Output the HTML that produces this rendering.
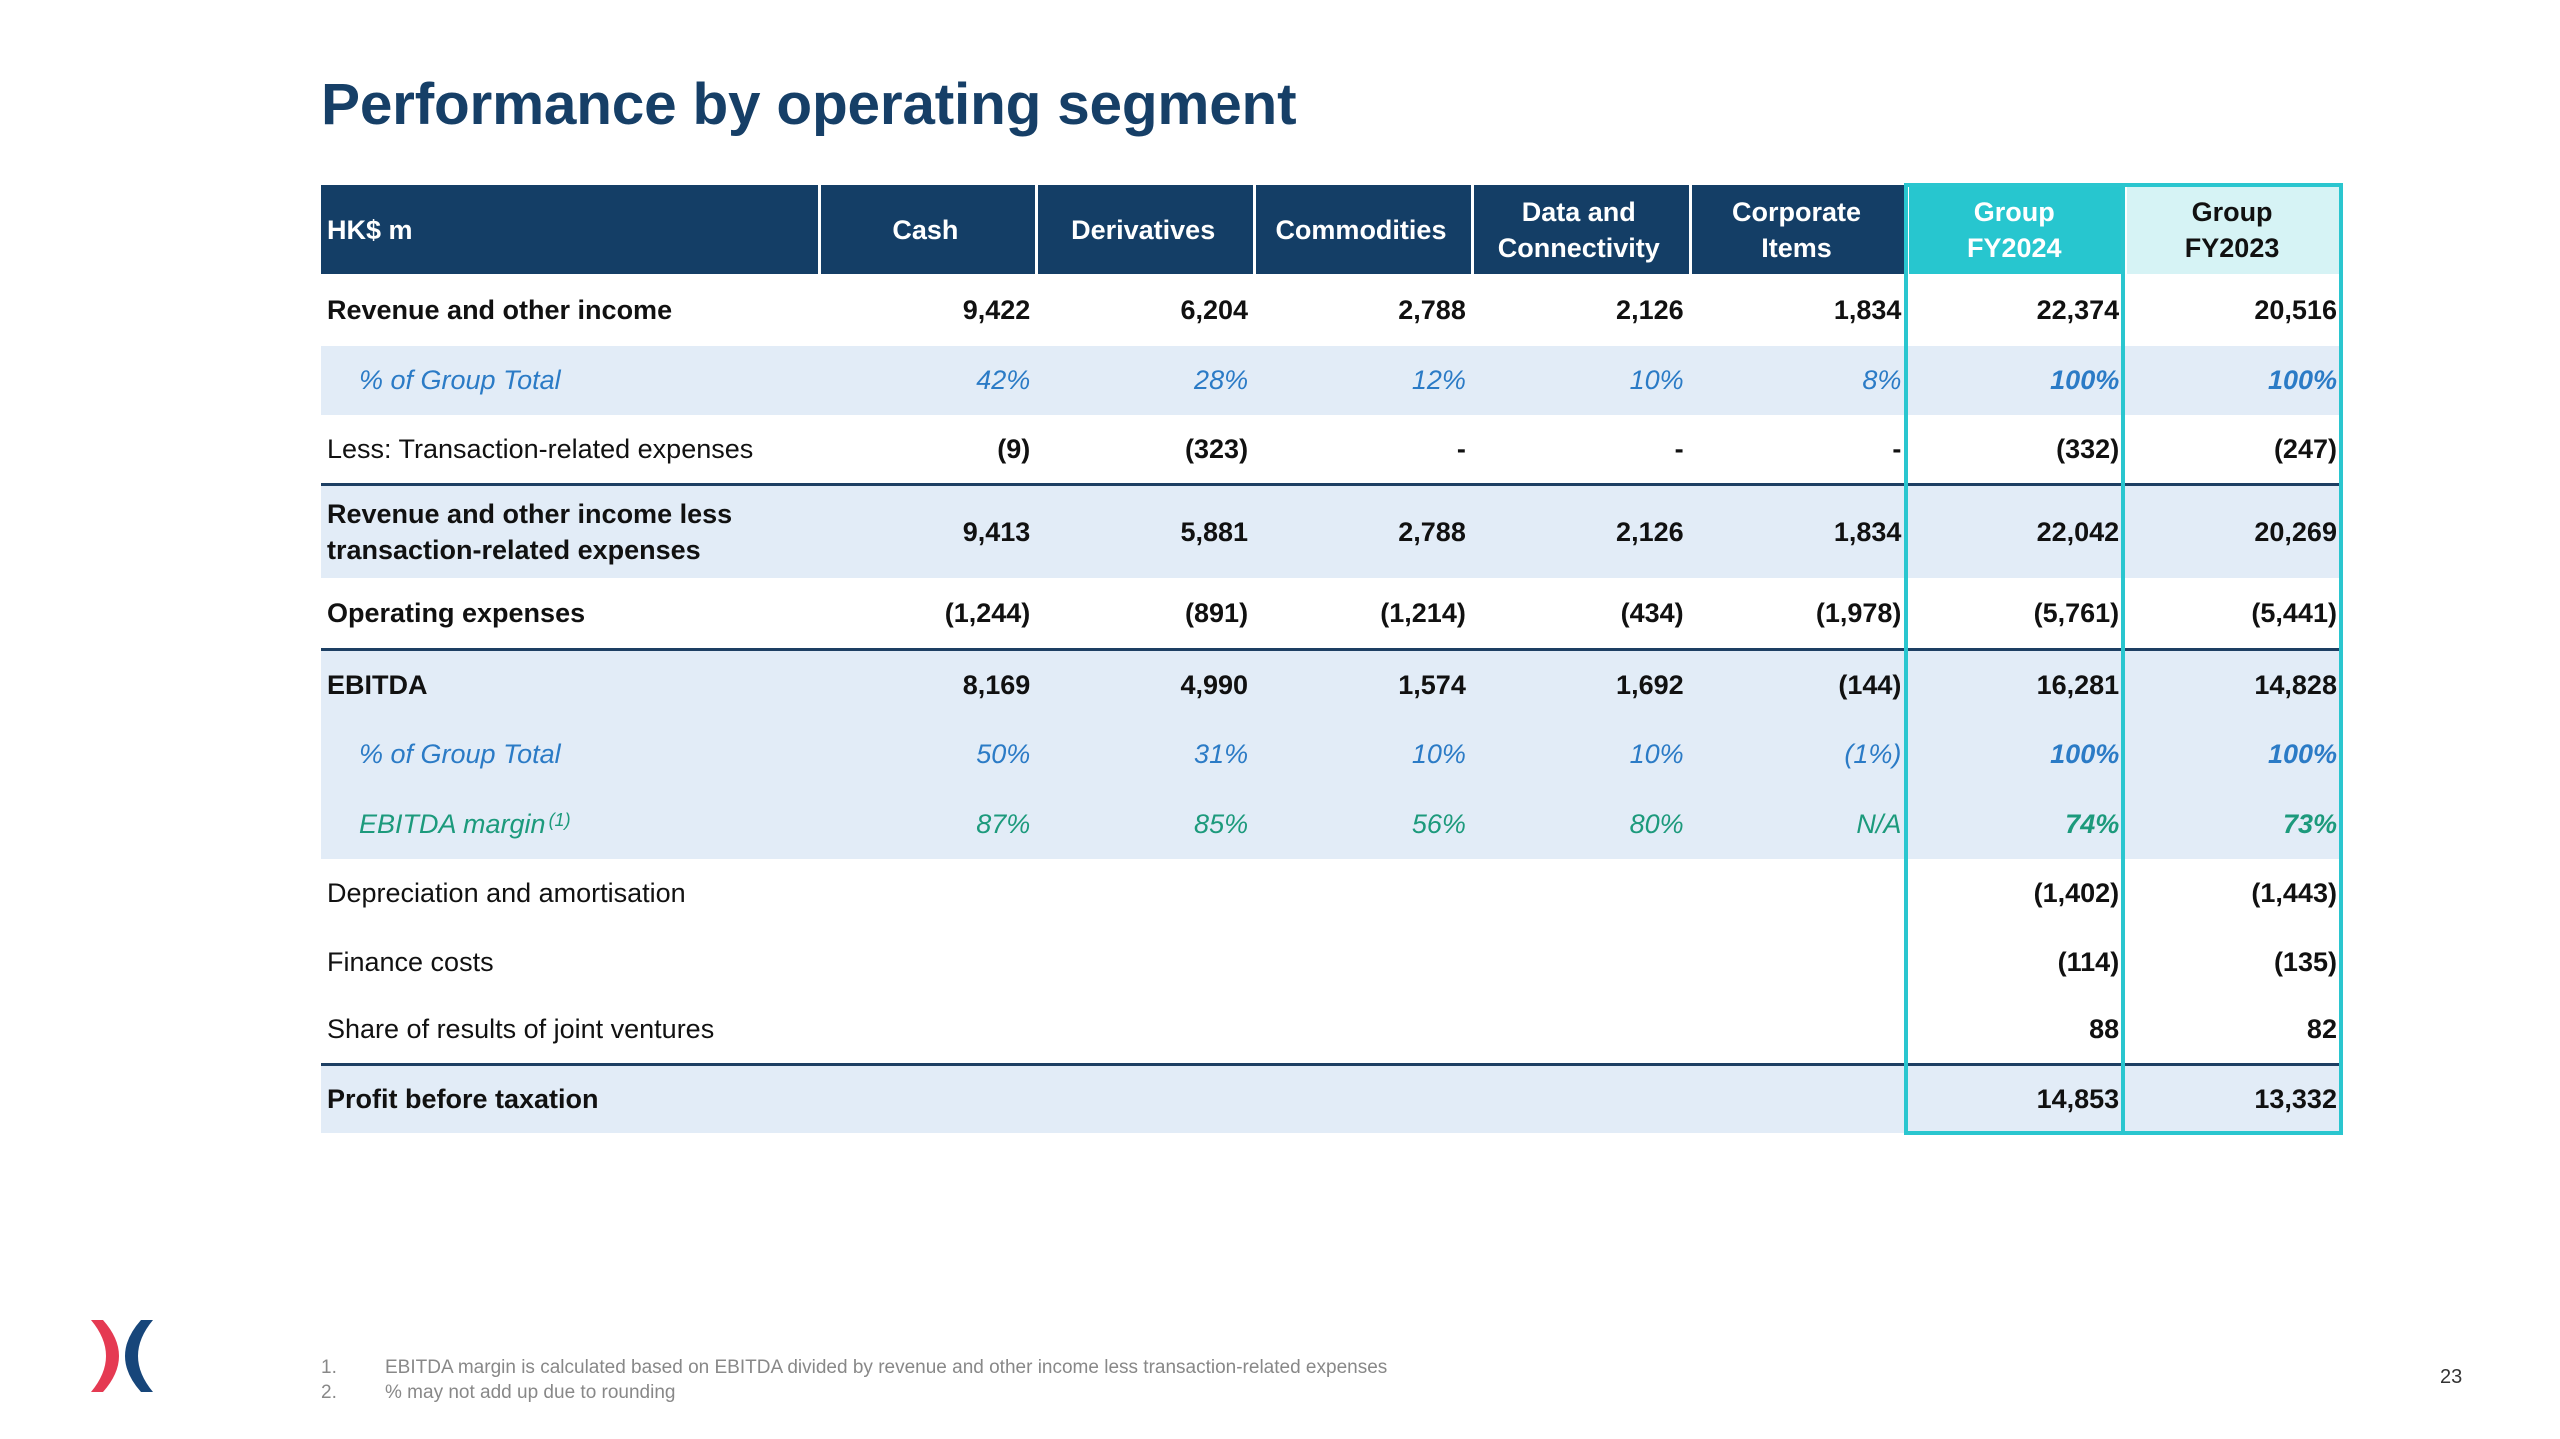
<!DOCTYPE html>
<html><head><meta charset="utf-8"><style>
*{box-sizing:border-box;margin:0;padding:0}
body{width:2560px;height:1439px;background:#fff;position:relative;overflow:hidden;font-family:"Liberation Sans",Arial,sans-serif;color:#111}
#title{position:absolute;left:321px;top:71px;font-size:58.5px;font-weight:bold;color:#163f67;letter-spacing:-0.2px}
#tbl{position:absolute;left:321px;top:185px;width:2021px}
.row{display:flex;align-items:center;font-size:27px}
.c{width:218px;text-align:right;padding-right:5px;height:100%;display:flex;align-items:center;justify-content:flex-end}
.l{width:497px;padding-left:6px;height:100%;display:flex;align-items:center}
.hdr .c,.hdr .l{background:#143e66;color:#fff;font-weight:bold;justify-content:center;text-align:center;border-left:3px solid #fff;line-height:36px}
.hdr .l{border-left:none;justify-content:flex-start}
.hdr .g24{background:#27c6cf}
.hdr .g23{background:#d6f3f5;color:#111}
.b{font-weight:bold}
.sh{background:#e2ecf7}
.blue{color:#2b7bc6;font-style:italic}
.green{color:#1c9a7c;font-style:italic}
.ind{padding-left:38px}
.top{border-top:3px solid #1d3f63}
#box{position:absolute;left:1904px;top:183px;width:439px;height:952px;border:4px solid #2ac6cf;pointer-events:none}
#div{position:absolute;left:2121px;top:183px;width:4px;height:952px;background:#2ac6cf}
.fn{position:absolute;font-size:19px;color:#888}
</style></head><body>
<div id="title">Performance by operating segment</div>
<div id="tbl">
<div class="row hdr" style="height:89px">
<div class="l">HK$ m</div>
<div class="c">Cash</div>
<div class="c">Derivatives</div>
<div class="c">Commodities</div>
<div class="c">Data and<br>Connectivity</div>
<div class="c">Corporate<br>Items</div>
<div class="c g24">Group<br>FY2024</div>
<div class="c g23">Group<br>FY2023</div>
</div>
<div class="row b" style="height:72px"><div class="l">Revenue and other income</div><div class="c">9,422</div><div class="c">6,204</div><div class="c">2,788</div><div class="c">2,126</div><div class="c">1,834</div><div class="c">22,374</div><div class="c">20,516</div></div>
<div class="row sh blue" style="height:69px"><div class="l ind">% of Group Total</div><div class="c">42%</div><div class="c">28%</div><div class="c">12%</div><div class="c">10%</div><div class="c">8%</div><div class="c b">100%</div><div class="c b">100%</div></div>
<div class="row" style="height:68px"><div class="l">Less: Transaction-related expenses</div><div class="c b">(9)</div><div class="c b">(323)</div><div class="c b">-</div><div class="c b">-</div><div class="c b">-</div><div class="c b">(332)</div><div class="c b">(247)</div></div>
<div class="row sh b top" style="height:95px;line-height:36px"><div class="l">Revenue and other income less<br>transaction-related expenses</div><div class="c">9,413</div><div class="c">5,881</div><div class="c">2,788</div><div class="c">2,126</div><div class="c">1,834</div><div class="c">22,042</div><div class="c">20,269</div></div>
<div class="row b" style="height:70px"><div class="l">Operating expenses</div><div class="c">(1,244)</div><div class="c">(891)</div><div class="c">(1,214)</div><div class="c">(434)</div><div class="c">(1,978)</div><div class="c">(5,761)</div><div class="c">(5,441)</div></div>
<div class="row sh b top" style="height:71px"><div class="l">EBITDA</div><div class="c">8,169</div><div class="c">4,990</div><div class="c">1,574</div><div class="c">1,692</div><div class="c">(144)</div><div class="c">16,281</div><div class="c">14,828</div></div>
<div class="row sh blue" style="height:71px"><div class="l ind">% of Group Total</div><div class="c">50%</div><div class="c">31%</div><div class="c">10%</div><div class="c">10%</div><div class="c">(1%)</div><div class="c b">100%</div><div class="c b">100%</div></div>
<div class="row sh green" style="height:69px"><div class="l ind">EBITDA margin<sup style="font-size:18px;margin-left:3px;position:relative;top:-4px">(1)</sup></div><div class="c">87%</div><div class="c">85%</div><div class="c">56%</div><div class="c">80%</div><div class="c">N/A</div><div class="c b">74%</div><div class="c b">73%</div></div>
<div class="row" style="height:69px"><div class="l">Depreciation and amortisation</div><div class="c"></div><div class="c"></div><div class="c"></div><div class="c"></div><div class="c"></div><div class="c b">(1,402)</div><div class="c b">(1,443)</div></div>
<div class="row" style="height:68px"><div class="l">Finance costs</div><div class="c"></div><div class="c"></div><div class="c"></div><div class="c"></div><div class="c"></div><div class="c b">(114)</div><div class="c b">(135)</div></div>
<div class="row" style="height:67px"><div class="l">Share of results of joint ventures</div><div class="c"></div><div class="c"></div><div class="c"></div><div class="c"></div><div class="c"></div><div class="c b">88</div><div class="c b">82</div></div>
<div class="row sh b top" style="height:70px"><div class="l">Profit before taxation</div><div class="c"></div><div class="c"></div><div class="c"></div><div class="c"></div><div class="c"></div><div class="c">14,853</div><div class="c">13,332</div></div>
</div>
<div id="box"></div>
<div id="div"></div>
<svg style="position:absolute;left:91px;top:1320px" width="64" height="72">
<path d="M0 0 H12 Q44 36 12 72 H0 Q30 36 0 0Z" fill="#e53a52"/>
<path d="M62 0 H50 Q18 36 50 72 H62 Q32 36 62 0Z" fill="#17467a"/>
</svg>
<div class="fn" style="left:321px;top:1357px">1.</div>
<div class="fn" style="left:385px;top:1357px">EBITDA margin is calculated based on EBITDA divided by revenue and other income less transaction-related expenses</div>
<div class="fn" style="left:321px;top:1382px">2.</div>
<div class="fn" style="left:385px;top:1382px">% may not add up due to rounding</div>
<div style="position:absolute;left:2440px;top:1366px;font-size:20px;color:#333">23</div>
</body></html>
